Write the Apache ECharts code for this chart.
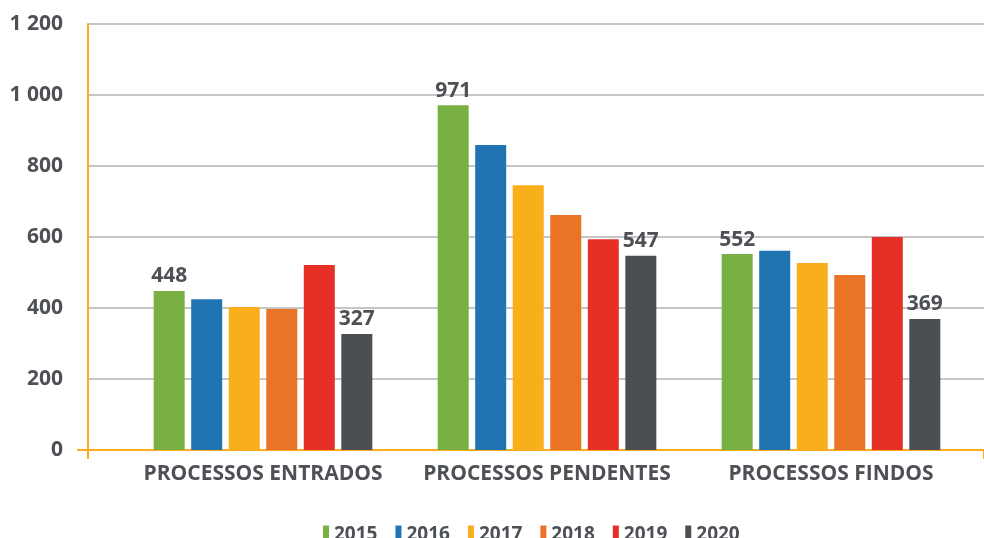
<!DOCTYPE html>
<html>
<head>
<meta charset="utf-8">
<script src="https://cdn.jsdelivr.net/npm/echarts@6/dist/echarts.min.js"></script>
<style>
  html, body { margin: 0; padding: 0; background: #fff; }
  #chart { width: 984px; height: 538px; }
</style>
</head>
<body>
<div id="chart"></div>
<script>
// dados
const categories = ['PROCESSOS ENTRADOS', 'PROCESSOS PENDENTES', 'PROCESSOS FINDOS']
const years = ['2015', '2016', '2017', '2018', '2019', '2020']
const v2015 = [448, 971, 552]
const v2016 = [425, 859, 561]
const v2017 = [403, 746, 527]
const v2018 = [397, 662, 493]
const v2019 = [521, 594, 600]
const v2020 = [327, 547, 369]
const yTicks = [0, 200, 400, 600, 800, 1000, 1200]

const colors = ['#78b043', '#1f74b1', '#f9ae1b', '#e97425', '#e63027', '#4b4f53']
const textColor = '#4d5054'
const axisYellow = '#f9ad1c'
const font = 'Open Sans'

const seriesValues = [v2015, v2016, v2017, v2018, v2019, v2020]
// só 2015 e 2020 têm rótulos
const withLabel = [true, false, false, false, false, true]

const chart = echarts.init(document.getElementById('chart'))

const option = {
  animation: false,
  textStyle: { fontFamily: font },
  color: colors,
  grid: [
    // grelha das barras
    { left: 121, right: 11, top: 24, bottom: 88 },
    // grelha do eixo Y e linhas de grelha
    { left: 88, right: -2, top: 24, bottom: 88 },
    // linha de base (um pouco mais longa à esquerda)
    { left: 78, right: -2, top: 24, bottom: 88 }
  ],
  legend: {
    data: years,
    left: 318,
    top: 520,
    icon: 'rect',
    itemWidth: 6,
    itemHeight: 18,
    itemGap: 18,
    textStyle: { color: textColor, fontSize: 19, fontWeight: 'bold', fontFamily: font }
  },
  xAxis: [
    {
      gridIndex: 0,
      type: 'category',
      data: categories,
      axisLine: { show: false },
      axisTick: { show: false },
      axisLabel: { interval: 0, color: textColor, fontSize: 21, fontWeight: 'bold', margin: 14, fontFamily: font }
    },
    {
      gridIndex: 1,
      type: 'category',
      data: [''],
      axisLine: { show: false },
      axisTick: { show: true, length: 9, lineStyle: { color: axisYellow, width: 2 } },
      axisLabel: { show: false }
    },
    {
      gridIndex: 2,
      type: 'category',
      data: [''],
      axisLine: { show: true, lineStyle: { color: axisYellow, width: 2 } },
      axisTick: { show: false },
      axisLabel: { show: false }
    }
  ],
  yAxis: [
    {
      gridIndex: 0,
      type: 'value',
      min: yTicks[0],
      max: yTicks[yTicks.length - 1],
      interval: 200,
      show: false
    },
    {
      gridIndex: 1,
      type: 'value',
      min: yTicks[0],
      max: yTicks[yTicks.length - 1],
      interval: 200,
      axisLine: { show: true, lineStyle: { color: axisYellow, width: 2 } },
      axisTick: { show: false },
      splitLine: { lineStyle: { color: '#b3b3b3', width: 1.5 } },
      axisLabel: {
        color: textColor,
        fontSize: 21,
        fontWeight: 'bold',
        margin: 25,
        fontFamily: font,
        formatter: v => String(v).replace(/\B(?=(\d{3})+(?!\d))/g, ' ')
      }
    },
    {
      gridIndex: 2,
      type: 'value',
      min: yTicks[0],
      max: yTicks[yTicks.length - 1],
      show: false
    }
  ],
  series: years.map((y, i) => ({
    name: y,
    type: 'bar',
    xAxisIndex: 0,
    yAxisIndex: 0,
    data: seriesValues[i],
    barGap: '21%',
    barCategoryGap: '23%',
    z: 3,
    label: {
      show: withLabel[i],
      position: 'top',
      distance: 4,
      color: textColor,
      fontSize: 21,
      fontWeight: 'bold',
      fontFamily: font
    }
  }))
}

chart.setOption(option)
</script>
</body>
</html>
